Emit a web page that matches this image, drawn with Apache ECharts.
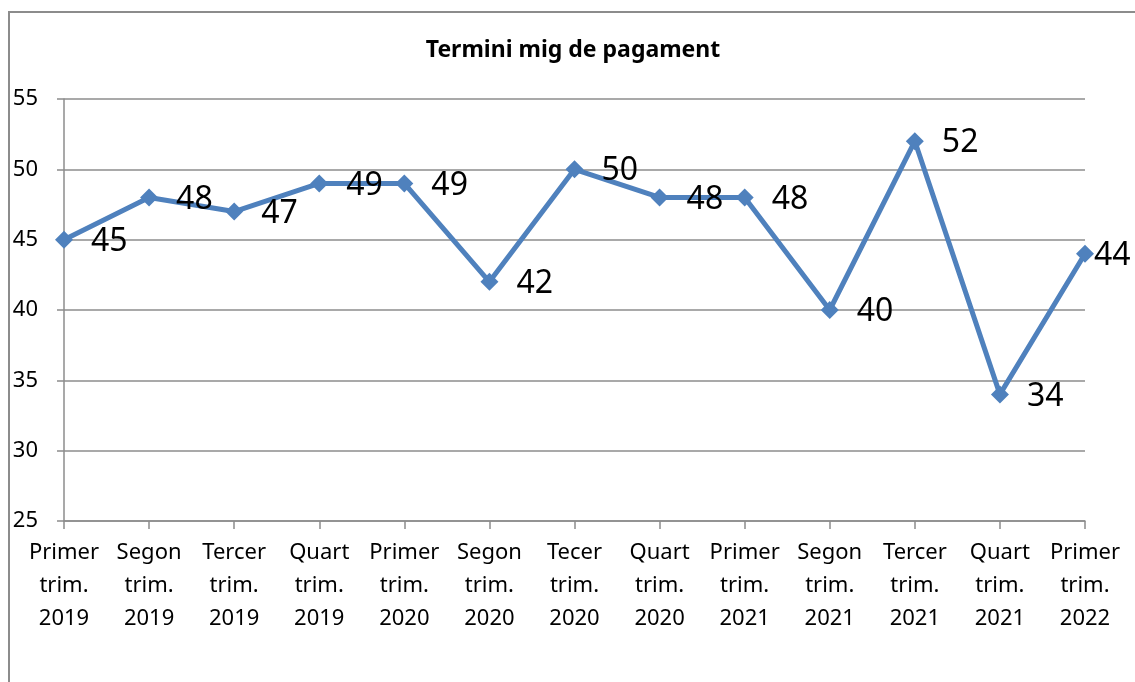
<!DOCTYPE html>
<html>
<head>
<meta charset="utf-8">
<script src="https://cdn.jsdelivr.net/npm/echarts@6/dist/echarts.min.js"></script>
<style>
html,body{margin:0;padding:0;background:#fff;}
#chart{width:1135px;height:682px;}
</style>
</head>
<body>
<div id="chart"></div>
<script>
const categories = [
  "Primer\ntrim.\n2019", "Segon\ntrim.\n2019", "Tercer\ntrim.\n2019", "Quart\ntrim.\n2019",
  "Primer\ntrim.\n2020", "Segon\ntrim.\n2020", "Tecer\ntrim.\n2020", "Quart\ntrim.\n2020",
  "Primer\ntrim.\n2021", "Segon\ntrim.\n2021", "Tercer\ntrim.\n2021", "Quart\ntrim.\n2021",
  "Primer\ntrim.\n2022"
];
const values = [45, 48, 47, 49, 49, 42, 50, 48, 48, 40, 52, 34, 44];
const titleText = "Termini mig de pagament";
const yMin = 25, yMax = 55, yStep = 5;

const FONT = "'Noto Sans', 'Open Sans', sans-serif";
const gridColor = "#8c8c8c";

const seriesData = values.map((v, i) => {
  if (i === values.length - 1) {
    return { value: v, label: { distance: 0, offset: [0, 2] } };
  }
  return v;
});

const chart = echarts.init(document.getElementById('chart'), null, { renderer: 'canvas' });
chart.setOption({
  backgroundColor: '#ffffff',
  animation: false,
  graphic: [
    {
      type: 'rect',
      shape: { x: 9, y: 12, width: 1300, height: 900 },
      style: { fill: 'none', stroke: '#8c8c8c', lineWidth: 2 },
      silent: true, z: 0
    },
    {
      type: 'text',
      x: 573, y: 50,
      style: {
        text: titleText, fill: '#000', font: "bold 23px " + FONT,
        textAlign: 'center', textVerticalAlign: 'middle'
      },
      z: 10
    }
  ],
  grid: { left: 64, right: 50, top: 99, bottom: 161, containLabel: false },
  xAxis: {
    type: 'category',
    data: categories,
    boundaryGap: false,
    axisLine: { lineStyle: { color: gridColor, width: 1.5 } },
    axisTick: { show: true, length: 8, alignWithLabel: true, lineStyle: { color: gridColor, width: 1.5 } },
    axisLabel: {
      color: '#000', fontFamily: FONT, fontSize: 22, lineHeight: 33,
      margin: 15, interval: 0
    },
    splitLine: { show: false }
  },
  yAxis: {
    type: 'value',
    min: yMin, max: yMax, interval: yStep,
    axisLine: { show: true, lineStyle: { color: gridColor, width: 1.5 } },
    axisTick: { show: true, length: 7, lineStyle: { color: gridColor, width: 1.5 } },
    axisLabel: { color: '#000', fontFamily: FONT, fontSize: 22, margin: 26 },
    splitLine: { show: true, lineStyle: { color: gridColor, width: 1.5 } }
  },
  series: [{
    type: 'line',
    data: seriesData,
    symbol: 'diamond',
    symbolSize: 18,
    lineStyle: { color: '#4f81bd', width: 5 },
    itemStyle: { color: '#4f81bd' },
    label: {
      show: true, position: 'right', distance: 18, offset: [0, 2],
      color: '#000', fontFamily: FONT, fontSize: 32
    },
    z: 5
  }]
});
</script>
</body>
</html>
